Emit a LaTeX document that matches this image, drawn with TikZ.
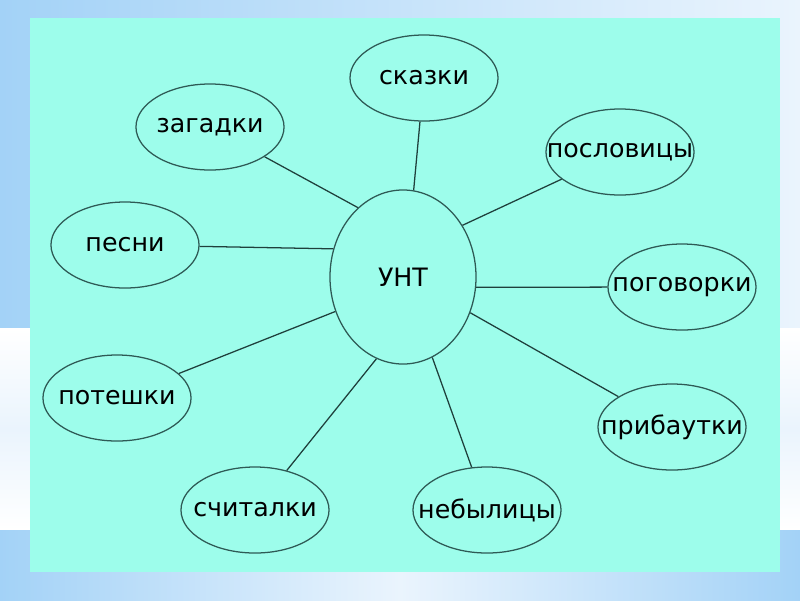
\documentclass[tikz,border=0pt]{standalone}
\usepackage{fontspec}
\setmainfont{DejaVu Sans}
\usetikzlibrary{shapes.geometric}
\definecolor{panel}{HTML}{9DFDEB}
\definecolor{rim}{HTML}{2E5A55}
\definecolor{spoke}{HTML}{1F403C}
\definecolor{sky}{HTML}{A3D2F7}
\definecolor{pale}{HTML}{EAF4FD}

\begin{document}
\begin{tikzpicture}[x=0.025cm,y=-0.025cm,
    word/.style={ellipse,draw=rim,line width=0.9pt,fill=panel,inner xsep=-2cm,inner ysep=-1cm,
      minimum width=3.7cm,minimum height=2.15cm,font=\fontsize{18}{20}\selectfont},
    link/.style={draw=spoke,line width=0.9pt}]
    % background of the slide
    \useasboundingbox (0,0) rectangle (800,600);
    \shade[left color=sky,right color=pale] (0,0) rectangle (800,328);
    \shade[top color=white,bottom color=white,middle color=pale] (0,328) rectangle (800,530);
    \shade[left color=sky,right color=sky,middle color=pale] (0,530) rectangle (800,600);
    % panel
    \fill[panel] (30,18) rectangle (780,572);
    % centre
    \node[word,minimum width=3.65cm,minimum height=4.35cm] (unt) at (403,277) {УНТ};
    % outer ellipses
    \node[word] (skazki)   at (424,78)  {сказки};
    \node[word] (zagadki)  at (210,127) {загадки};
    \node[word] (poslov)   at (620,152) {пословицы};
    \node[word] (pesni)    at (125,245) {песни};
    \node[word] (pogovor)  at (682,287) {поговорки};
    \node[word] (poteshki) at (117,398) {потешки};
    \node[word] (pribaut)  at (672,427) {прибаутки};
    \node[word] (schital)  at (255,510) {считалки};
    \node[word] (nebyl)    at (487,510) {небылицы};
    % spokes
    \draw[link] (unt.83)  -- (skazki);
    \draw[link] (unt.123) -- (zagadki);
    \draw[link] (unt.41)  -- (poslov);
    \draw[link] (unt.158) -- (pesni);
    \draw[link] (unt.-8)  -- (pogovor);
    \draw[link] (unt.207) -- (poteshki);
    \draw[link] (unt.-28) -- (pribaut);
    \draw[link] (unt.252) -- (schital);
    \draw[link] (unt.290) -- (nebyl);
\end{tikzpicture}
\end{document}
